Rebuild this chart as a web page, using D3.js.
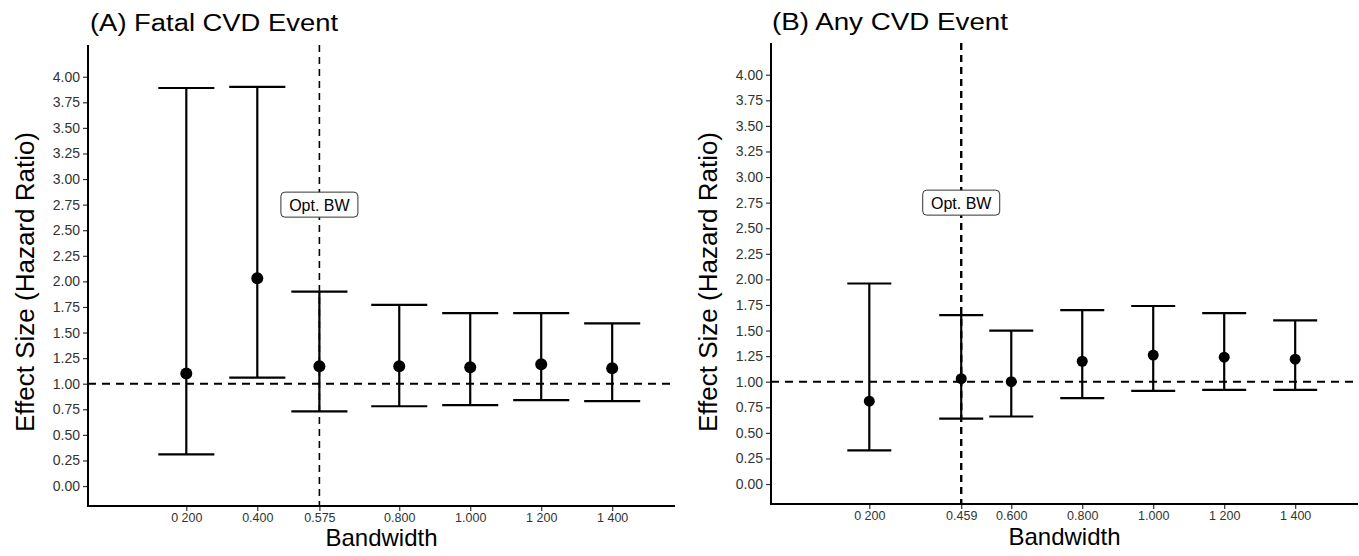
<!DOCTYPE html>
<html>
<head>
<meta charset="utf-8">
<script src="https://cdn.jsdelivr.net/npm/d3@7"></script>
<style>
  html, body { margin: 0; padding: 0; background: #fff; }
  svg { display: block; font-family: "Liberation Sans", Arial, sans-serif; }
</style>
</head>
<body>
<svg id="chart" width="1359" height="556"></svg>
<script>
// ---- Data ----
const bandwidthA = [0.2, 0.4, 0.575, 0.8, 1.0, 1.2, 1.4];
const hrA        = [1.10, 2.03, 1.17, 1.17, 1.16, 1.19, 1.15];
const lowerA     = [0.31, 1.06, 0.73, 0.78, 0.79, 0.84, 0.83];
const upperA     = [3.89, 3.90, 1.90, 1.77, 1.69, 1.69, 1.59];
const tickLabelsA = ["0 200", "0.400", "0.575", "0.800", "1.000", "1 200", "1 400"];
const optBwA = 0.575;

const bandwidthB = [0.2, 0.459, 0.6, 0.8, 1.0, 1.2, 1.4];
const hrB        = [0.81, 1.03, 1.00, 1.20, 1.26, 1.24, 1.22];
const lowerB     = [0.33, 0.64, 0.66, 0.84, 0.91, 0.92, 0.92];
const upperB     = [1.96, 1.65, 1.50, 1.70, 1.74, 1.67, 1.60];
const tickLabelsB = ["0 200", "0.459", "0.600", "0.800", "1.000", "1 200", "1 400"];
const optBwB = 0.459;

const yTicks = [0, 0.25, 0.5, 0.75, 1, 1.25, 1.5, 1.75, 2, 2.25, 2.5, 2.75, 3, 3.25, 3.5, 3.75, 4];
const titles = ["(A) Fatal CVD Event", "(B) Any CVD Event"];
const refHR = 1;
const labelY = 2.75;

const svg = d3.select("#chart");

function panel(opts) {
  const { x0, x1, y0, y1, bw, hr, lo, hi, labels, opt, title, titleX, titleY, titleLen,
          capHalf, r, vlineW, xTitleY } = opts;
  const x = d3.scaleLinear().domain([-0.077, 1.577]).range([x0, x1]);
  const y = d3.scaleLinear().domain([-0.195, 4.31]).range([y1, y0]);
  const g = svg.append("g");

  // y axis
  const ya = g.append("g").attr("transform", `translate(${x0},0)`)
    .call(d3.axisLeft(y).tickValues(yTicks).tickFormat(d3.format(".2f")).tickSize(5).tickPadding(3));
  ya.select(".domain").remove();
  ya.selectAll(".tick line").attr("stroke", "#333").attr("stroke-width", 1.2);
  ya.selectAll(".tick text").attr("font-size", 14).attr("fill", "#333")
    .attr("font-family", "Liberation Sans, Arial, sans-serif");

  // x axis
  const xa = g.append("g").attr("transform", `translate(0,${y1})`)
    .call(d3.axisBottom(x).tickValues(bw).tickFormat((d, i) => labels[i]).tickSize(5).tickPadding(2));
  xa.select(".domain").remove();
  xa.selectAll(".tick line").attr("stroke", "#333").attr("stroke-width", 1.2);
  xa.selectAll(".tick text").attr("font-size", 12.5).attr("fill", "#333")
    .attr("font-family", "Liberation Sans, Arial, sans-serif");

  // axis lines
  g.append("line").attr("x1", x0).attr("x2", x0).attr("y1", y0).attr("y2", y1 + 1)
    .attr("stroke", "#000").attr("stroke-width", 2);
  g.append("line").attr("x1", x0 - 1).attr("x2", x1).attr("y1", y1).attr("y2", y1)
    .attr("stroke", "#000").attr("stroke-width", 2);

  // reference lines
  g.append("line").attr("x1", x0).attr("x2", x1).attr("y1", y(refHR)).attr("y2", y(refHR))
    .attr("stroke", "#000").attr("stroke-width", 2).attr("stroke-dasharray", "8,6");
  g.append("line").attr("x1", x(opt)).attr("x2", x(opt)).attr("y1", y0).attr("y2", y1)
    .attr("stroke", "#000").attr("stroke-width", vlineW).attr("stroke-dasharray", "7,5");

  // error bars
  const idx = d3.range(bw.length);
  g.selectAll(".eb").data(idx).join("line")
    .attr("x1", i => x(bw[i])).attr("x2", i => x(bw[i]))
    .attr("y1", i => y(lo[i])).attr("y2", i => y(hi[i]))
    .attr("stroke", "#000").attr("stroke-width", 2.2);
  g.selectAll(".capU").data(idx).join("line")
    .attr("x1", i => x(bw[i] - capHalf)).attr("x2", i => x(bw[i] + capHalf))
    .attr("y1", i => y(hi[i])).attr("y2", i => y(hi[i]))
    .attr("stroke", "#000").attr("stroke-width", 2.2);
  g.selectAll(".capL").data(idx).join("line")
    .attr("x1", i => x(bw[i] - capHalf)).attr("x2", i => x(bw[i] + capHalf))
    .attr("y1", i => y(lo[i])).attr("y2", i => y(lo[i]))
    .attr("stroke", "#000").attr("stroke-width", 2.2);
  g.selectAll(".pt").data(idx).join("circle")
    .attr("cx", i => x(bw[i])).attr("cy", i => y(hr[i])).attr("r", r).attr("fill", "#000");

  // Opt. BW label
  const lw = 77, lh = 25;
  g.append("rect").attr("x", x(opt) - lw / 2).attr("y", y(labelY) - lh / 2)
    .attr("width", lw).attr("height", lh).attr("rx", 4).attr("ry", 4)
    .attr("fill", "#fff").attr("stroke", "#333").attr("stroke-width", 1);
  g.append("text").attr("x", x(opt)).attr("y", y(labelY) + 6)
    .attr("text-anchor", "middle").attr("font-size", 16).attr("fill", "#000").text("Opt. BW");

  // titles
  g.append("text").attr("x", titleX).attr("y", titleY).attr("font-size", 23)
    .attr("textLength", titleLen).attr("lengthAdjust", "spacingAndGlyphs")
    .attr("fill", "#000").text(title);
  g.append("text").attr("x", (x0 + x1) / 2).attr("y", xTitleY).attr("text-anchor", "middle")
    .attr("font-size", 24).attr("fill", "#000").text("Bandwidth");
  g.append("text").attr("transform", `translate(${x0 - 54},282) rotate(-90)`)
    .attr("text-anchor", "middle").attr("font-size", 26).attr("fill", "#000")
    .text("Effect Size (Hazard Ratio)");
}

panel({ x0: 88, x1: 675, y0: 45, y1: 506, bw: bandwidthA, hr: hrA, lo: lowerA, hi: upperA,
  labels: tickLabelsA, opt: optBwA, title: titles[0], titleX: 90, titleY: 31, titleLen: 248,
  capHalf: 0.079, r: 6, vlineW: 1.6, xTitleY: 546 });
panel({ x0: 771, x1: 1358, y0: 43, y1: 504, bw: bandwidthB, hr: hrB, lo: lowerB, hi: upperB,
  labels: tickLabelsB, opt: optBwB, title: titles[1], titleX: 772, titleY: 29.5, titleLen: 236,
  capHalf: 0.062, r: 5.5, vlineW: 2.4, xTitleY: 545 });
</script>
</body>
</html>
